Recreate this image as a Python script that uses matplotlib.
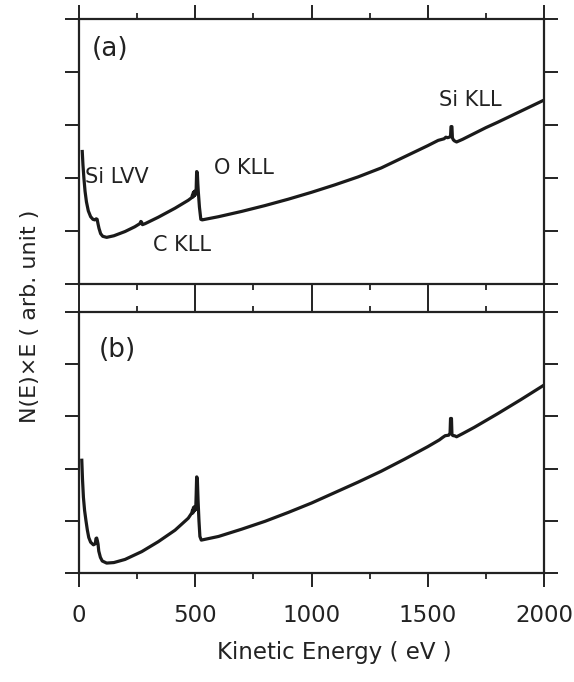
import matplotlib
matplotlib.use("Agg")
import matplotlib.pyplot as plt
from matplotlib.ticker import MultipleLocator

# ---- data ----
energy_a = [14, 17, 21, 26, 32, 40, 50, 60, 68, 74, 78, 82, 86, 93, 102, 119, 150, 198, 240,
            262, 266, 269, 273, 285, 341, 413, 470, 485, 488, 490, 492, 494, 496, 498, 500, 502,
            504, 506, 507, 509, 511, 513, 518, 524, 530, 600, 700, 800, 900, 1000, 1100, 1200,
            1300, 1400, 1500, 1545, 1570, 1578, 1585, 1592, 1598, 1600, 1602, 1604, 1606,
            1610, 1615, 1624, 1650, 1700, 1750, 1800, 1900, 2000]
signal_a = [2.50, 2.25, 2.00, 1.75, 1.55, 1.38, 1.27, 1.22, 1.21, 1.23, 1.22, 1.13, 1.05,
            0.95, 0.90, 0.88, 0.91, 0.99, 1.08, 1.14, 1.18, 1.17, 1.12, 1.14, 1.26, 1.43, 1.58,
            1.63, 1.68, 1.64, 1.73, 1.66, 1.75, 1.67, 1.74, 1.70, 1.80, 2.12, 2.12, 2.10, 1.90,
            1.75, 1.45, 1.22, 1.21, 1.27, 1.37, 1.48, 1.60, 1.73, 1.87, 2.02, 2.19, 2.40, 2.61,
            2.71, 2.74, 2.77, 2.76, 2.77, 2.78, 2.97, 2.97, 2.97, 2.76, 2.72, 2.70, 2.68,
            2.73, 2.84, 2.95, 3.05, 3.26, 3.47]

energy_b = [12, 15, 19, 24, 30, 36, 42, 50, 62, 70, 73, 76, 79, 82, 85, 92, 100, 119, 150, 198,
            270, 341, 413, 470, 485, 488, 490, 492, 494, 496, 498, 500, 502, 504, 506, 507, 509,
            512, 516, 520, 526, 600, 700, 800, 900, 1000, 1100, 1200, 1300, 1400, 1500, 1550,
            1565, 1575, 1590, 1596, 1598, 1600, 1602, 1604, 1606, 1610, 1615, 1624, 1650, 1700,
            1800, 1900, 2000]
signal_b = [2.16, 1.80, 1.45, 1.20, 1.00, 0.82, 0.68, 0.59, 0.54, 0.56, 0.66, 0.67, 0.62, 0.55,
            0.42, 0.30, 0.23, 0.19, 0.20, 0.26, 0.41, 0.60, 0.82, 1.05, 1.15, 1.20, 1.15, 1.25,
            1.18, 1.27, 1.20, 1.26, 1.22, 1.50, 1.84, 1.84, 1.80, 1.40, 1.00, 0.70, 0.63, 0.70,
            0.84, 0.99, 1.16, 1.34, 1.54, 1.74, 1.95, 2.18, 2.42, 2.55, 2.60, 2.63, 2.64, 2.68,
            2.96, 2.96, 2.96, 2.66, 2.64, 2.63, 2.63, 2.61, 2.67, 2.79, 3.05, 3.32, 3.60]

x_ticks = [0, 500, 1000, 1500, 2000]
x_ticklabels = ["0", "500", "1000", "1500", "2000"]
y_ticks = [0, 1, 2, 3, 4, 5]
peak_labels = ["Si LVV", "O KLL", "C KLL", "Si KLL"]
peak_label_pos = [(117, 2.02), (244, 2.19), (182, 0.73), (470, 3.47)]  # (pixel x, data y)
peak_label_size = [15, 15, 15, 15]

W, H = 574, 682
fig = plt.figure(figsize=(W / 100, H / 100), dpi=100)

def frac(px_l, px_t, px_r, px_b):
    return [px_l / W, 1 - px_b / H, (px_r - px_l) / W, (px_b - px_t) / H]

ax_a = fig.add_axes(frac(79, 19, 544, 284))
ax_b = fig.add_axes(frac(79, 312, 544, 573))

for ax in (ax_a, ax_b):
    ax.set_xlim(0, 2000)
    ax.set_ylim(0, 5)
    ax.set_xticks(x_ticks)
    ax.xaxis.set_minor_locator(MultipleLocator(250))
    ax.set_yticks(y_ticks)
    ax.set_yticklabels([])
    ax.tick_params(which="major", direction="out", length=10, width=1.4,
                   top=True, right=True, bottom=True, left=True, color="#222222")
    ax.tick_params(which="minor", direction="out", length=4.5, width=1.3,
                   top=True, bottom=True, color="#222222")
    for s in ax.spines.values():
        s.set_linewidth(1.6)
        s.set_color("#222222")

ax_a.set_xticklabels([])
ax_b.set_xticklabels(x_ticklabels, fontsize=16.5, color="#222222")
ax_b.tick_params(axis="x", which="major", pad=12)

ax_a.plot(energy_a, signal_a, color="#1a1a1a", lw=2.3, solid_joinstyle="round")
ax_b.plot(energy_b, signal_b, color="#1a1a1a", lw=2.3, solid_joinstyle="round")

ax_a.text(0.0667, 0.885, "(a)", transform=ax_a.transAxes, fontsize=19,
          ha="center", va="center", color="#222222")
ax_b.text(0.0817, 0.855, "(b)", transform=ax_b.transAxes, fontsize=19,
          ha="center", va="center", color="#222222")

for lab, (px, yv), fs in zip(peak_labels, peak_label_pos, peak_label_size):
    xv = (px - 79) / (544 - 79) * 2000
    ax_a.text(xv, yv, lab, fontsize=fs, ha="center", va="center", color="#222222")

fig.text(334 / W, 1 - 652 / H, "Kinetic Energy ( eV )", fontsize=16.5, ha="center",
         va="center", color="#222222")
fig.text(30 / W, 1 - 316 / H, "N(E)\u00d7E ( arb. unit )", fontsize=16,
         rotation=90, ha="center", va="center", color="#222222")

fig.savefig("out.png", dpi=100)
